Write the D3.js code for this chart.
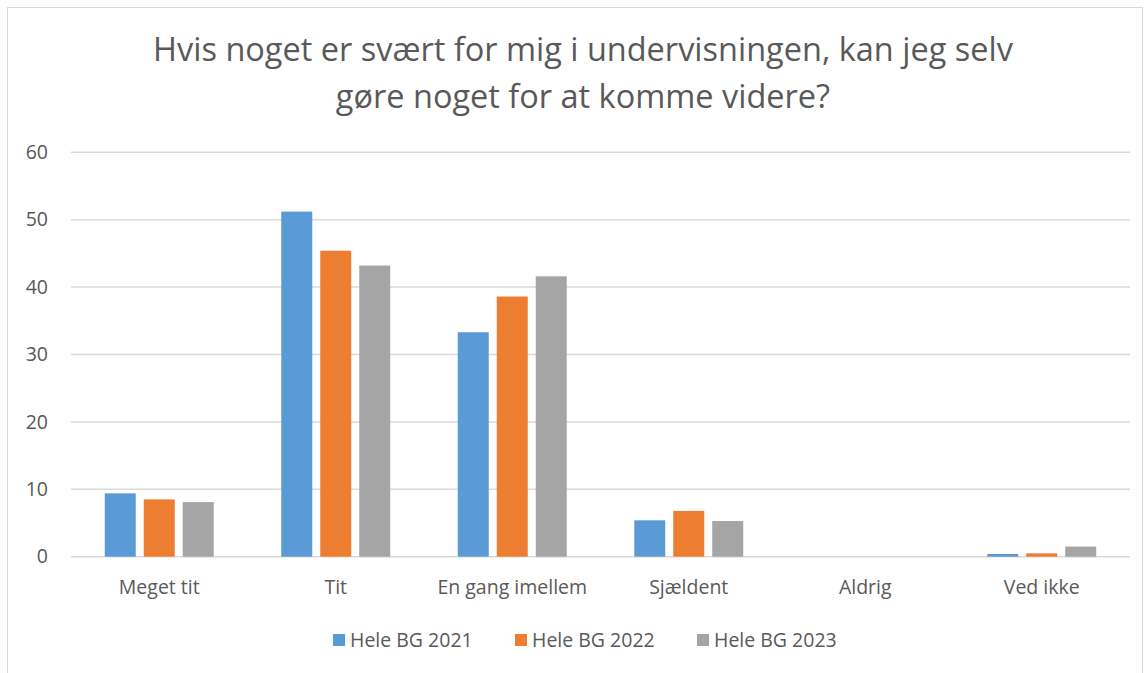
<!DOCTYPE html>
<html>
<head>
<meta charset="utf-8">
<script src="https://cdn.jsdelivr.net/npm/d3@7"></script>
<style>
  body { margin: 0; background: #fff; }
  svg { display: block; }
</style>
</head>
<body>
<div id="chart"></div>
<script>
// chart data
var categories = ['Meget tit', 'Tit', 'En gang imellem', 'Sjældent', 'Aldrig', 'Ved ikke'];
var seriesNames = ['Hele BG 2021', 'Hele BG 2022', 'Hele BG 2023'];
var values2021 = [9.4, 51.2, 33.3, 5.4, 0, 0.4];
var values2022 = [8.5, 45.4, 38.6, 6.8, 0, 0.5];
var values2023 = [8.1, 43.2, 41.6, 5.3, 0, 1.5];
var yTicks = [0, 10, 20, 30, 40, 50, 60];
var titleLines = ['Hvis noget er svært for mig i undervisningen, kan jeg selv', 'gøre noget for at komme videre?'];

var seriesValues = [values2021, values2022, values2023];
var colors = ['#5b9bd5', '#ed7d31', '#a5a5a5'];

var attrs = {
  width: 1145,
  height: 673,
  plotLeft: 71,
  plotRight: 1130,
  plotTop: 152.3,
  plotBottom: 556.7,
  textColor: '#595959',
  gridColor: '#d9d9d9',
  labelSize: 19.5,
  font: "'Open Sans', 'Noto Sans', sans-serif"
};

var svg = d3.select('#chart').append('svg')
  .attr('width', attrs.width)
  .attr('height', attrs.height);

// chart frame
svg.append('rect')
  .attr('x', 7.5)
  .attr('y', 7.5)
  .attr('width', 1135)
  .attr('height', 700)
  .attr('fill', '#fff')
  .attr('stroke', '#d9d9d9')
  .attr('stroke-width', 1);

// title, sized to fit its measured width
var title = svg.append('g').attr('class', 'title');
title.selectAll('text')
  .data(titleLines)
  .enter().append('text')
  .attr('x', 583)
  .attr('y', (d, i) => 61 + i * 47)
  .attr('text-anchor', 'middle')
  .attr('font-family', attrs.font)
  .attr('font-size', 28)
  .attr('fill', attrs.textColor)
  .text(d => d);
var firstLen = title.select('text').node().getComputedTextLength();
title.selectAll('text').attr('font-size', 28 * 860 / firstLen);

// scales
var x0 = d3.scaleBand()
  .domain(categories)
  .range([attrs.plotLeft, attrs.plotRight])
  .paddingInner(0)
  .paddingOuter(0);

var x1 = d3.scaleBand()
  .domain(seriesNames)
  .range([0, x0.bandwidth()])
  .paddingInner(0.205)
  .paddingOuter(0.866);

var y = d3.scaleLinear()
  .domain([0, 60])
  .range([attrs.plotBottom, attrs.plotTop]);

// gridlines
svg.append('g').attr('class', 'grid')
  .selectAll('line')
  .data(yTicks)
  .enter().append('line')
  .attr('x1', attrs.plotLeft)
  .attr('x2', attrs.plotRight)
  .attr('y1', d => y(d))
  .attr('y2', d => y(d))
  .attr('stroke', attrs.gridColor)
  .attr('stroke-width', 1.5);

// y axis labels
var yAxis = d3.axisLeft(y).tickValues(yTicks).tickSize(0).tickPadding(23);
var yG = svg.append('g')
  .attr('transform', `translate(${attrs.plotLeft},0)`)
  .call(yAxis);
yG.select('.domain').remove();
yG.selectAll('text')
  .attr('font-family', attrs.font)
  .attr('font-size', attrs.labelSize)
  .attr('fill', attrs.textColor);

// bars
var groups = svg.append('g').attr('class', 'bars')
  .selectAll('g')
  .data(categories)
  .enter().append('g')
  .attr('transform', d => `translate(${x0(d)},0)`);

groups.selectAll('rect')
  .data((c, ci) => seriesNames.map((s, si) => ({ series: s, value: seriesValues[si][ci], color: colors[si] })))
  .enter().append('rect')
  .attr('x', d => x1(d.series))
  .attr('width', x1.bandwidth())
  .attr('y', d => y(d.value))
  .attr('height', d => y(0) - y(d.value))
  .attr('fill', d => d.color);

// x axis labels
var xAxis = d3.axisBottom(x0).tickSize(0).tickPadding(23);
var xG = svg.append('g')
  .attr('transform', `translate(0,${attrs.plotBottom})`)
  .call(xAxis);
xG.select('.domain').remove();
xG.selectAll('text')
  .attr('font-family', attrs.font)
  .attr('font-size', attrs.labelSize)
  .attr('fill', attrs.textColor);

// legend
var legendX = [333, 515, 697];
var legend = svg.append('g').attr('class', 'legend')
  .selectAll('g')
  .data(seriesNames)
  .enter().append('g')
  .attr('transform', (d, i) => `translate(${legendX[i]},634)`);

legend.append('rect')
  .attr('width', 12)
  .attr('height', 12)
  .attr('fill', (d, i) => colors[i]);

legend.append('text')
  .attr('x', 17)
  .attr('y', 6)
  .attr('dy', '0.35em')
  .attr('font-family', attrs.font)
  .attr('font-size', attrs.labelSize)
  .attr('fill', attrs.textColor)
  .text(d => d);
</script>
</body>
</html>
